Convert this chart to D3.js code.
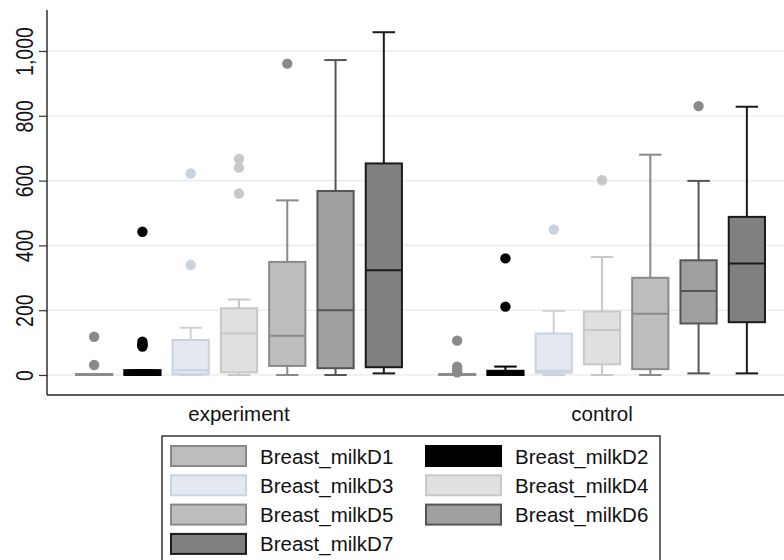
<!DOCTYPE html>
<html>
<head>
<meta charset="utf-8">
<script src="https://cdn.jsdelivr.net/npm/d3@7"></script>
<style>
  body { margin: 0; background: #fff; }
  svg { display: block; font-family: "Liberation Sans", Arial, sans-serif; }
</style>
</head>
<body>
<div id="chart"></div>
<script>
// ─── DATA ───────────────────────────────────────────────────────
const groups = ['experiment', 'control']
const series = ['Breast_milkD1', 'Breast_milkD2', 'Breast_milkD3', 'Breast_milkD4',
  'Breast_milkD5', 'Breast_milkD6', 'Breast_milkD7']
const yTicks = [0, 200, 400, 600, 800, 1000]

// experiment (one value per series)
const expLow  = [0, 0, 0, 0, 0, 0, 5]
const expQ1   = [0, 0, 2, 8, 28, 21, 24]
const expMed  = [1, 5, 15, 128, 121, 200, 323]
const expQ3   = [3, 15, 108, 206, 349, 568, 653]
const expHigh = [3, 15, 146, 233, 539, 972, 1058]
const expOut  = [[31, 118], [88, 92, 96, 103, 442], [340, 622], [560, 640, 667], [961], [], []]

// control
const ctlLow  = [0, 0, 0, 0, 0, 5, 5]
const ctlQ1   = [0, 0, 7, 33, 18, 159, 163]
const ctlMed  = [1, 5, 13, 139, 189, 259, 344]
const ctlQ3   = [3, 13, 128, 196, 300, 354, 488]
const ctlHigh = [3, 26, 198, 364, 680, 599, 828]
const ctlOut  = [[8, 16, 26, 106], [211, 360], [449], [601], [], [830], []]

// colours per series
const fills   = ['#bdbdbd', '#000000', '#e3e8f1', '#e0e0e0', '#bebebe', '#a0a0a0', '#808080']
const strokes = ['#8a8a8a', '#000000', '#c9d3df', '#c8c8c8', '#8a8a8a', '#555555', '#1a1a1a']
const dotCols = ['#8a8a8a', '#000000', '#c9d3df', '#c8c8c8', '#8a8a8a', '#8a8a8a', '#555555']

// build box records from the arrays
const stats = {
  experiment: { lo: expLow, q1: expQ1, med: expMed, q3: expQ3, hi: expHigh, out: expOut },
  control:    { lo: ctlLow, q1: ctlQ1, med: ctlMed, q3: ctlQ3, hi: ctlHigh, out: ctlOut }
}
const boxes = []
groups.forEach(g => {
  series.forEach((s, i) => {
    const st = stats[g]
    boxes.push({ group: g, series: s, i: i, lo: st.lo[i], q1: st.q1[i], med: st.med[i],
      q3: st.q3[i], hi: st.hi[i], out: st.out[i] })
  })
})

// ─── LAYOUT ─────────────────────────────────────────────────────
const W = 784, H = 560
const PLOT = { LEFT: 47, RIGHT: 784, TOP: 10, BOTTOM: 395 }

const svg = d3.select('#chart').append('svg')
  .attr('width', W)
  .attr('height', H)

// ─── SCALES ─────────────────────────────────────────────────────
const x0 = d3.scaleBand()
  .domain(groups)
  .range([70, 771])
  .paddingInner(0.069)
  .paddingOuter(0)

const x1 = d3.scaleBand()
  .domain(series)
  .range([0, x0.bandwidth()])
  .paddingInner(0.25)
  .paddingOuter(0.125)

const y = d3.scaleLinear()
  .domain([0, 1000])
  .range([375, 51])

// ─── GRID ───────────────────────────────────────────────────────
svg.append('g')
  .selectAll('line')
  .data(yTicks)
  .join('line')
    .attr('x1', PLOT.LEFT)
    .attr('x2', PLOT.RIGHT)
    .attr('y1', d => y(d))
    .attr('y2', d => y(d))
    .attr('stroke', '#ebeeee')
    .attr('stroke-width', 1.6)

// ─── Y AXIS ─────────────────────────────────────────────────────
const yAxis = svg.append('g')
  .attr('transform', `translate(${PLOT.LEFT}, 0)`)
  .call(d3.axisLeft(y).tickValues(yTicks).tickSize(8).tickFormat(d3.format(',')))
yAxis.select('.domain').remove()
yAxis.selectAll('.tick line').attr('stroke', '#333').attr('stroke-width', 1.2)
// rotated labels, glyphs a bit taller than wide like the original
yAxis.selectAll('.tick text')
  .attr('x', 0)
  .attr('dy', 0)
  .attr('transform', 'translate(-22, 0) rotate(-90) scale(1, 1.25)')
  .attr('text-anchor', 'middle')
  .attr('dominant-baseline', 'central')
  .attr('font-size', 19.5)
  .attr('fill', '#111')

// axis frame lines
svg.append('line')
  .attr('x1', PLOT.LEFT).attr('x2', PLOT.LEFT)
  .attr('y1', PLOT.TOP).attr('y2', PLOT.BOTTOM)
  .attr('stroke', '#222').attr('stroke-width', 1.4)
svg.append('line')
  .attr('x1', PLOT.LEFT).attr('x2', PLOT.RIGHT)
  .attr('y1', PLOT.BOTTOM).attr('y2', PLOT.BOTTOM)
  .attr('stroke', '#222').attr('stroke-width', 1.4)

// ─── X LABELS ───────────────────────────────────────────────────
svg.append('g')
  .selectAll('text')
  .data(groups)
  .join('text')
    .attr('x', d => x0(d) + x0.bandwidth() / 2)
    .attr('y', 421)
    .attr('text-anchor', 'middle')
    .attr('font-size', 20.5)
    .attr('fill', '#111')
    .text(d => d)

// ─── BOXES ──────────────────────────────────────────────────────
const bw = x1.bandwidth()
const cap = bw * 0.62

const box = svg.append('g')
  .selectAll('g')
  .data(boxes)
  .join('g')
    .attr('transform', d => `translate(${x0(d.group) + x1(d.series)}, 0)`)

// whiskers
box.append('line')
  .attr('x1', bw / 2).attr('x2', bw / 2)
  .attr('y1', d => y(d.hi)).attr('y2', d => y(d.q3))
  .attr('stroke', d => strokes[d.i]).attr('stroke-width', 2)
box.append('line')
  .attr('x1', bw / 2).attr('x2', bw / 2)
  .attr('y1', d => y(d.q1)).attr('y2', d => y(d.lo))
  .attr('stroke', d => strokes[d.i]).attr('stroke-width', 2)
// caps
box.append('line')
  .attr('x1', (bw - cap) / 2).attr('x2', (bw + cap) / 2)
  .attr('y1', d => y(d.hi)).attr('y2', d => y(d.hi))
  .attr('stroke', d => strokes[d.i]).attr('stroke-width', 2)
box.append('line')
  .attr('x1', (bw - cap) / 2).attr('x2', (bw + cap) / 2)
  .attr('y1', d => y(d.lo)).attr('y2', d => y(d.lo))
  .attr('stroke', d => strokes[d.i]).attr('stroke-width', 2)

// box body
box.append('rect')
  .attr('x', 0)
  .attr('width', bw)
  .attr('y', d => y(d.q3))
  .attr('height', d => y(d.q1) - y(d.q3))
  .attr('fill', d => fills[d.i])
  .attr('stroke', d => strokes[d.i])
  .attr('stroke-width', 2)

// median
box.append('line')
  .attr('x1', 0).attr('x2', bw)
  .attr('y1', d => y(d.med)).attr('y2', d => y(d.med))
  .attr('stroke', d => strokes[d.i]).attr('stroke-width', 2)

// outliers
box.selectAll('circle')
  .data(d => d.out.map(v => ({ v: v, i: d.i })))
  .join('circle')
    .attr('cx', bw / 2)
    .attr('cy', d => y(d.v))
    .attr('r', 5.2)
    .attr('fill', d => dotCols[d.i])

// ─── LEGEND ─────────────────────────────────────────────────────
const legend = svg.append('g')
legend.append('rect')
  .attr('x', 162).attr('y', 436)
  .attr('width', 498).attr('height', 140)
  .attr('fill', '#fff')
  .attr('stroke', '#333')
  .attr('stroke-width', 1.5)

const item = legend.selectAll('g')
  .data(series)
  .join('g')
    .attr('transform', (d, i) => `translate(${i % 2 ? 426 : 171}, ${446 + Math.floor(i / 2) * 29.3})`)

item.append('rect')
  .attr('width', 75).attr('height', 20)
  .attr('fill', (d, i) => fills[i])
  .attr('stroke', (d, i) => strokes[i])
  .attr('stroke-width', 2)

item.append('text')
  .attr('x', 89)
  .attr('y', 10)
  .attr('dominant-baseline', 'central')
  .attr('font-size', 20.5)
  .attr('fill', '#111')
  .text(d => d)
</script>
</body>
</html>
